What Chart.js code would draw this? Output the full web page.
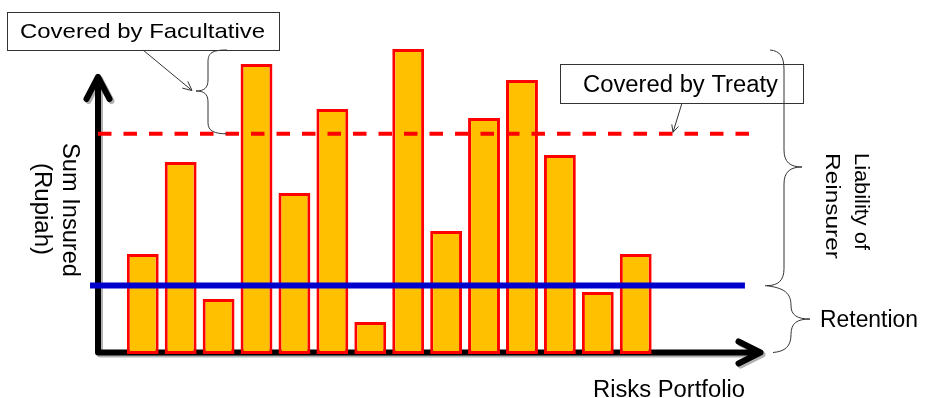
<!DOCTYPE html>
<html>
<head>
<meta charset="utf-8">
<title>Retention, Treaty and Facultative cover</title>
<script src="https://cdn.jsdelivr.net/npm/chart.js@4.4.1/dist/chart.umd.min.js"></script>
<style>
  html, body { margin: 0; padding: 0; background: #fff; }
  #chart { display: block; }
</style>
</head>
<body>
<canvas id="chart" width="925" height="398"></canvas>
<script>
// =========================
//  DATA
// =========================

// one bar per risk in the portfolio
const risks = [1, 2, 3, 4, 5, 6, 7, 8, 9, 10, 11, 12, 13, 14];

// sum insured per risk (relative units)
const sumInsured = [33.3, 64, 18.3, 96.7, 53.7, 81.7, 10.7, 101.7, 41, 78.7, 91.3, 66.3, 20.7, 33.3];

// limits
const retentionLimit = 22.8;
const treatyLimit = 73.4;

// texts
const yTitle = ["Sum Insured", "(Rupiah)"];
const xTitle = "Risks Portfolio";
const facultativeText = "Covered by Facultative";
const treatyText = "Covered by Treaty";
const liabilityText = ["Liability of", "Reinsurer"];
const retentionText = "Retention";

// =========================
//  STYLE / LAYOUT
// =========================

const BAR_FILL = "#FFC000";
const BAR_EDGE = "#FF0000";
const TREATY_COLOR = "#FF0000";
const RETENTION_COLOR = "#0000CC";
const FONT = '"Liberation Sans", Arial, sans-serif';

const X_MIN = -0.18, X_MAX = 17.33;
const treatySpan = [X_MIN, 17.12];
const retentionSpan = [-0.39, 16.88];

// =========================
//  HELPERS
// =========================

// draws text stretched to a given width (x,y = start of the baseline)
function fitText(ctx, str, x, y, size, width, angle) {
  ctx.save();
  ctx.font = size + "px " + FONT;
  const w = ctx.measureText(str).width;
  ctx.translate(x, y);
  if (angle) ctx.rotate(angle);
  ctx.scale(width / w, 1);
  ctx.textAlign = "left";
  ctx.textBaseline = "alphabetic";
  ctx.fillStyle = "#000";
  ctx.fillText(str, 0, 0);
  ctx.restore();
}

function arrow(ctx, x1, y1, x2, y2, head) {
  const a = Math.atan2(y2 - y1, x2 - x1);
  ctx.beginPath();
  ctx.moveTo(x1, y1);
  ctx.lineTo(x2, y2);
  ctx.moveTo(x2 - head * Math.cos(a - 0.45), y2 - head * Math.sin(a - 0.45));
  ctx.lineTo(x2, y2);
  ctx.lineTo(x2 - head * Math.cos(a + 0.45), y2 - head * Math.sin(a + 0.45));
  ctx.stroke();
}

function box(ctx, x, y, w, h) {
  ctx.fillStyle = "#fff";
  ctx.fillRect(x, y, w, h);
  ctx.strokeRect(x + 0.5, y + 0.5, w, h);
}

// =========================
//  PLUGIN: axes + notes
// =========================

const decorPlugin = {
  id: "decor",
  beforeDatasetsDraw(chart) {
    const { ctx, chartArea, scales: { y } } = chart;
    const ox = chartArea.left;
    const oy = y.getPixelForValue(0) - 1.5;
    const tipX = 760.5, tipY = 77;

    ctx.save();
    ctx.strokeStyle = "#000";
    ctx.lineWidth = 6;
    ctx.lineCap = "round";
    ctx.lineJoin = "round";
    ctx.shadowColor = "rgba(0,0,0,0.3)";
    ctx.shadowOffsetX = 2;
    ctx.shadowOffsetY = 2;

    ctx.beginPath();
    ctx.moveTo(ox, oy);
    ctx.lineTo(ox, tipY);
    ctx.moveTo(ox - 11.5, tipY + 22);
    ctx.lineTo(ox, tipY);
    ctx.lineTo(ox + 11.5, tipY + 22);
    ctx.moveTo(ox, oy);
    ctx.lineTo(tipX, oy);
    ctx.moveTo(tipX - 22, oy - 11);
    ctx.lineTo(tipX, oy);
    ctx.lineTo(tipX - 22, oy + 11);
    ctx.stroke();
    ctx.restore();
  },
  afterDatasetsDraw(chart) {
    const { ctx, scales: { y } } = chart;
    const treatyY = y.getPixelForValue(treatyLimit);
    const retY = y.getPixelForValue(retentionLimit);
    const baseY = y.getPixelForValue(0) - 1.5;

    ctx.save();
    ctx.strokeStyle = "#333";
    ctx.lineWidth = 1;

    // boxes
    box(ctx, 7, 12, 272, 38);
    box(ctx, 560, 64, 243, 39);

    // facultative brace "{"
    ctx.beginPath();
    ctx.moveTo(227, 50);
    ctx.bezierCurveTo(212, 50, 208, 53, 208, 62);
    ctx.lineTo(208, 80);
    ctx.bezierCurveTo(208, 88, 204, 91, 196, 91);
    ctx.bezierCurveTo(204, 91, 208, 94, 208, 102);
    ctx.lineTo(208, treatyY - 11);
    ctx.bezierCurveTo(208, treatyY - 3, 214, treatyY, 227, treatyY);
    ctx.stroke();

    // liability brace "}"
    ctx.beginPath();
    ctx.moveTo(770, 50);
    ctx.bezierCurveTo(780, 51, 784, 56, 784, 70);
    ctx.lineTo(784, 150);
    ctx.bezierCurveTo(784, 162, 790, 167, 802, 167);
    ctx.bezierCurveTo(790, 167, 784, 172, 784, 184);
    ctx.lineTo(784, retY - 17);
    ctx.bezierCurveTo(784, retY - 5, 778, retY, 767, retY);
    ctx.stroke();

    // retention brace "}"
    const mid = (retY + baseY) / 2;
    ctx.beginPath();
    ctx.moveTo(765, retY);
    ctx.bezierCurveTo(785, retY + 2, 791, retY + 8, 791, retY + 20);
    ctx.bezierCurveTo(791, mid - 4, 797, mid, 810, mid);
    ctx.bezierCurveTo(797, mid, 791, mid + 4, 791, baseY - 18);
    ctx.bezierCurveTo(791, baseY - 6, 785, baseY - 1, 773, baseY);
    ctx.stroke();

    // callout arrows
    arrow(ctx, 143, 50, 192, 90.5, 10);
    arrow(ctx, 682, 103, 673, treatyY - 1.5, 8);
    ctx.restore();

    // texts
    fitText(ctx, facultativeText, 20, 37.5, 21, 245);
    fitText(ctx, treatyText, 583, 91.5, 23, 195);
    fitText(ctx, retentionText, 820, 327, 23, 98);
    fitText(ctx, xTitle, 593, 396.5, 23, 152);
    fitText(ctx, yTitle[0], 63, 143, 23, 134, Math.PI / 2);
    fitText(ctx, yTitle[1], 35, 163, 23, 92, Math.PI / 2);
    fitText(ctx, liabilityText[0], 855, 153, 21, 97, Math.PI / 2);
    fitText(ctx, liabilityText[1], 826, 153, 21, 106, Math.PI / 2);
  }
};

// =========================
//  CHART
// =========================

const barData = risks.map((r, i) => ({ x: r, y: sumInsured[i] }));
const treatyData = treatySpan.map(x => ({ x, y: treatyLimit }));
const retentionData = retentionSpan.map(x => ({ x, y: retentionLimit }));

new Chart(document.getElementById("chart"), {
  type: "bar",
  data: {
    datasets: [
      {
        type: "line", label: "Treaty limit", data: treatyData,
        borderColor: TREATY_COLOR, borderWidth: 4, borderDash: [13.5, 12],
        pointRadius: 0, clip: false, order: 0
      },
      {
        type: "line", label: "Retention", data: retentionData,
        borderColor: RETENTION_COLOR, borderWidth: 6,
        pointRadius: 0, clip: false, order: 0
      },
      {
        label: "Sum insured", data: barData,
        backgroundColor: BAR_FILL, borderColor: BAR_EDGE, borderWidth: 3,
        borderSkipped: false, barPercentage: 0.84, categoryPercentage: 1, order: 1
      }
    ]
  },
  options: {
    responsive: false,
    animation: false,
    devicePixelRatio: 1,
    layout: { padding: { left: 98, right: 163, top: 39, bottom: 44 } },
    plugins: { legend: { display: false }, tooltip: { enabled: false } },
    scales: {
      x: { type: "linear", min: X_MIN, max: X_MAX, offset: false, display: false },
      y: { min: 0, max: 105, display: false }
    }
  },
  plugins: [decorPlugin]
});
</script>
</body>
</html>
